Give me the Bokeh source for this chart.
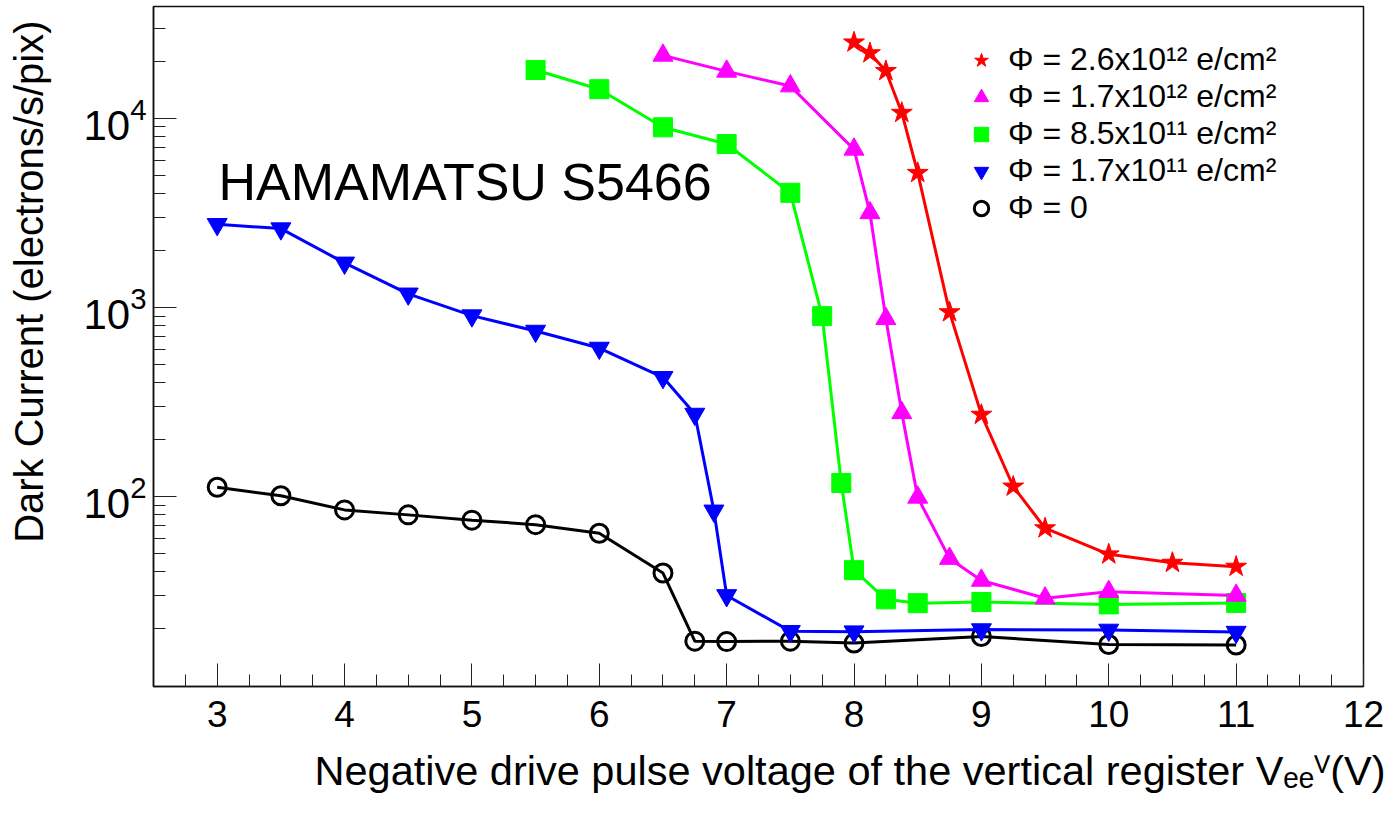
from bokeh.plotting import figure
from bokeh.models import FixedTicker, Label, Legend, LegendItem, Range1d, Title
from bokeh.embed import file_html
from bokeh.resources import INLINE

# ---- data ----
x_phi0 = [3, 3.5, 4, 4.5, 5, 5.5, 6, 6.5, 6.75, 7, 7.5, 8, 9, 10, 11]
y_phi0 = [112, 101, 85, 80, 75, 71, 64, 39.4, 17.2, 17.1, 17.2, 16.8, 18.2, 16.5, 16.4]

x_phi17e11 = [3, 3.5, 4, 4.5, 5, 5.5, 6, 6.5, 6.75, 6.9, 7, 7.5, 8, 9, 10, 11]
y_phi17e11 = [2750, 2610, 1720, 1180, 905, 750, 610, 427, 273, 84, 30, 19.4, 19.3, 19.8, 19.7, 19.2]

x_phi85e11 = [5.5, 6, 6.5, 7, 7.5, 7.75, 7.9, 8, 8.25, 8.5, 9, 10, 11]
y_phi85e11 = [18000, 14250, 8960, 7310, 4035, 899, 118, 40.8, 28.6, 27.3, 27.7, 26.9, 27.4]

x_phi17e12 = [6.5, 7, 7.5, 8, 8.125, 8.25, 8.375, 8.5, 8.75, 9, 9.5, 10, 11]
y_phi17e12 = [21500, 17700, 14800, 6850, 3160, 871, 277, 99, 47, 36, 29, 31.4, 30]

x_phi26e12 = [8, 8.125, 8.25, 8.375, 8.5, 8.75, 9, 9.25, 9.5, 10, 10.5, 11]
y_phi26e12 = [25200, 22100, 17800, 10700, 5150, 944, 271, 113, 68, 49.5, 44.7, 42.6]

legend_labels = [
    "\u03a6 = 2.6x10\u00b9\u00b2 e/cm\u00b2",
    "\u03a6 = 1.7x10\u00b9\u00b2 e/cm\u00b2",
    "\u03a6 = 8.5x10\u00b9\u00b9 e/cm\u00b2",
    "\u03a6 = 1.7x10\u00b9\u00b9 e/cm\u00b2",
    "\u03a6 = 0",
]

x_title = "Negative drive pulse voltage of the vertical register V\u2091\u2091\u2c7d(V)"
y_title = "Dark Current (electrons/s/pix)"
device_text = "HAMAMATSU S5466"

x_major_ticks = [3, 4, 5, 6, 7, 8, 9, 10, 11, 12]
x_minor_ticks = [2.75 + 0.25 * i for i in range(37) if (2.75 + 0.25 * i) % 1 != 0]
y_major_ticks = [100, 1000, 10000]
y_minor_ticks = [m * d for d in (10, 100, 1000, 10000) for m in range(2, 10)]

FONT = "Liberation Sans"
SHIFT = 25  # canvas is shifted left by this many pixels (negative margin)

p = figure(width=1399 + SHIFT, height=814, y_axis_type="log",
           x_range=Range1d(2.5, 12), y_range=Range1d(9.9, 39000),
           output_backend="svg", toolbar_location=None,
           min_border_left=153 + SHIFT, min_border_right=36,
           min_border_top=6, min_border_bottom=128,
           margin=(0, 0, 0, -SHIFT))
p.grid.visible = False
p.outline_line_color = "#111111"
p.outline_line_width = 1.5
p.background_fill_color = "white"
p.border_fill_color = "white"

p.xaxis.ticker = FixedTicker(ticks=x_major_ticks, minor_ticks=x_minor_ticks)
p.yaxis.ticker = FixedTicker(ticks=y_major_ticks, minor_ticks=y_minor_ticks)

for ax in (p.xaxis, p.yaxis):
    ax.major_tick_in = 23
    ax.major_tick_out = 0
    ax.minor_tick_in = 12
    ax.minor_tick_out = 0
    ax.axis_line_color = "#111111"
    ax.axis_line_width = 1.5
    ax.major_tick_line_color = "#222222"
    ax.minor_tick_line_color = "#222222"
    ax.major_label_text_font = FONT
    ax.major_label_text_color = "black"

p.xaxis.major_label_text_font_size = "37px"
p.xaxis.major_label_standoff = 14
p.yaxis.major_label_text_font_size = "42px"
p.yaxis.major_label_standoff = 7

# ---- series ----
series = [
    (x_phi0, y_phi0, "black", "circle", 18),
    (x_phi17e11, y_phi17e11, "#0000ff", "inverted_triangle", 20),
    (x_phi85e11, y_phi85e11, "#00ff00", "square", 19),
    (x_phi17e12, y_phi17e12, "#ff00ff", "triangle", 20),
    (x_phi26e12, y_phi26e12, "#ff0000", "star", 22),
]
scatter_r = []
for xs, ys, col, mk, sz in series:
    p.line(xs, ys, line_color=col, line_width=3)
    if mk == "circle":
        r = p.scatter(xs, ys, marker=mk, size=sz, fill_color=None,
                      line_color=col, line_width=3)
    else:
        r = p.scatter(xs, ys, marker=mk, size=sz, fill_color=col,
                      line_color=col, line_width=1)
    scatter_r.append(r)

# legend order: red, magenta, green, blue, black
order = [4, 3, 2, 1, 0]
items = [LegendItem(label=legend_labels[i], renderers=[scatter_r[j]])
         for i, j in enumerate(order)]
legend = Legend(items=items, location=(810, 460),
                glyph_width=36, glyph_height=36, spacing=0,
                label_standoff=9, padding=0, margin=0,
                label_text_font=FONT, label_text_font_size="32px",
                label_text_color="black", label_height=30,
                border_line_alpha=0, background_fill_alpha=0)
p.add_layout(legend)

# ---- texts ----
p.add_layout(Label(x=65, y=505, x_units="screen", y_units="screen",
                   text=device_text, text_font=FONT, text_color="black",
                   text_font_size="52px", text_baseline="alphabetic"))

p.add_layout(Title(text=x_title, align="right", offset=-22, standoff=34,
                   vertical_align="top",
                   text_font=FONT, text_font_size="41.5px",
                   text_font_style="normal", text_color="black"), "below")
p.add_layout(Title(text=y_title, align="right", offset=14, standoff=56,
                   vertical_align="top",
                   text_font=FONT, text_font_size="40px",
                   text_font_style="normal", text_color="black"), "left")

open("out.html", "w").write(file_html(p, INLINE))
